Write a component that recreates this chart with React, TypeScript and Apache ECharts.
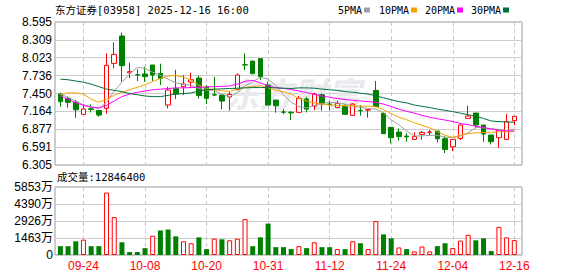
import React, { useEffect, useRef } from "react";
import * as echarts from "echarts";

const dates = [
  "09-19","09-22","09-23","09-24","09-25","09-26","09-29","09-30","10-02","10-03",
  "10-06","10-08","10-09","10-10","10-13","10-14","10-15","10-16","10-17","10-20",
  "10-21","10-22","10-23","10-24","10-27","10-28","10-30","10-31","11-03","11-04",
  "11-05","11-06","11-07","11-10","11-11","11-12","11-13","11-14","11-17","11-18",
  "11-19","11-20","11-21","11-24","11-25","11-26","11-27","11-28","12-01","12-02",
  "12-03","12-04","12-05","12-08","12-09","12-10","12-11","12-12","12-15","12-16",
];

const opens = [
  7.442,7.372,7.308,7.116,7.205,7.180,7.212,7.933,8.371,7.780,
  7.750,7.762,7.906,7.772,7.266,7.527,7.559,7.633,7.697,7.553,
  7.430,7.425,7.394,7.517,7.910,7.970,8.008,7.585,7.345,7.155,
  7.148,7.148,7.362,7.249,7.431,7.281,7.228,7.239,7.100,7.178,
  7.185,7.500,7.132,6.908,6.833,6.768,6.715,6.796,6.830,6.849,
  6.726,6.598,6.731,7.052,7.137,6.945,6.785,6.742,6.715,7.015,
];
const closes = [
  7.319,7.308,7.190,7.201,7.195,7.105,7.901,8.077,7.896,7.800,
  7.745,7.720,7.746,7.693,7.506,7.442,7.602,7.671,7.419,7.372,
  7.425,7.329,7.436,7.746,7.906,7.767,7.719,7.265,7.254,7.150,
  7.140,7.372,7.200,7.441,7.287,7.276,7.292,7.116,7.281,7.174,
  7.190,7.239,6.806,6.742,6.760,6.755,6.760,6.827,6.833,6.726,
  6.555,6.715,6.945,7.089,6.945,6.801,6.678,6.865,6.998,7.084,
];
const lows = [
  7.239,7.222,7.063,7.116,7.147,7.079,7.127,7.853,7.639,7.693,
  7.650,7.639,7.650,7.586,7.212,7.362,7.425,7.543,7.366,7.281,
  7.410,7.200,7.175,7.500,7.826,7.767,7.666,7.265,7.142,7.116,
  7.025,7.148,7.148,7.185,7.175,7.175,7.212,7.116,7.100,7.095,
  7.062,7.239,6.806,6.651,6.694,6.678,6.715,6.710,6.774,6.667,
  6.496,6.528,6.705,7.052,6.892,6.678,6.635,6.582,6.715,6.945,
];
const highs = [
  7.463,7.398,7.346,7.282,7.277,7.180,8.093,8.269,8.424,7.944,
  7.840,7.874,7.906,7.927,7.559,7.830,7.745,7.783,7.735,7.586,
  7.714,7.425,7.479,7.772,8.093,7.970,8.008,7.639,7.345,7.200,
  7.169,7.410,7.399,7.463,7.452,7.329,7.335,7.276,7.292,7.260,
  7.190,7.650,7.143,6.908,6.892,6.812,6.828,6.849,6.865,6.849,
  6.769,6.715,6.956,7.255,7.137,6.945,6.785,6.865,7.121,7.084,
];
// volume in 万 shares
const volumes = [
  760,760,1181,1322,760,760,5373,3263,1097,253,
  253,591,1660,2110,2194,1603,1181,1013,1519,506,
  1406,1350,1266,1406,3094,760,1519,2700,675,675,
  520,760,591,1097,675,675,506,506,1181,1013,
  506,2926,1772,1435,647,506,309,731,309,760,
  1013,591,1238,1744,1266,1435,338,2419,1519,1284.64,
];
const prevClose = 7.35;

const ma5 = [
  7.44,7.39,7.33,7.27,7.24,7.21,7.31,7.49,7.63,7.76,
  7.87,7.85,7.79,7.74,7.68,7.62,7.60,7.58,7.53,7.50,
  7.50,7.44,7.40,7.46,7.57,7.64,7.71,7.68,7.58,7.43,
  7.31,7.24,7.22,7.26,7.29,7.31,7.30,7.28,7.25,7.23,
  7.21,7.20,7.14,7.03,6.95,6.85,6.77,6.77,6.78,6.78,
  6.75,6.74,6.77,6.82,6.91,6.90,6.89,6.875,6.86,6.88,
];
const ma10 = [
  7.43,7.46,7.46,7.44,7.36,7.31,7.36,7.42,7.47,7.51,
  7.55,7.59,7.64,7.69,7.73,7.74,7.71,7.665,7.58,7.53,
  7.51,7.495,7.485,7.52,7.55,7.56,7.575,7.54,7.50,7.48,
  7.44,7.37,7.33,7.30,7.28,7.265,7.26,7.255,7.25,7.25,
  7.245,7.24,7.19,7.13,7.07,7.03,6.98,6.94,6.90,6.84,
  6.78,6.75,6.78,6.81,6.82,6.825,6.83,6.835,6.84,6.845,
];
const ma20 = [
  7.41,7.36,7.30,7.26,7.23,7.22,7.26,7.33,7.40,7.44,
  7.47,7.49,7.51,7.52,7.53,7.54,7.54,7.545,7.55,7.555,
  7.56,7.565,7.57,7.60,7.645,7.66,7.62,7.57,7.545,7.53,
  7.515,7.49,7.465,7.44,7.41,7.39,7.37,7.355,7.34,7.33,
  7.32,7.31,7.28,7.24,7.20,7.165,7.135,7.10,7.07,7.045,
  7.025,7.00,6.97,6.95,6.925,6.905,6.88,6.86,6.85,6.85,
];
const ma30 = [
  7.68,7.67,7.65,7.63,7.60,7.56,7.52,7.50,7.48,7.45,
  7.43,7.41,7.40,7.40,7.42,7.44,7.45,7.46,7.49,7.51,
  7.52,7.525,7.53,7.535,7.54,7.545,7.545,7.545,7.54,7.535,
  7.53,7.54,7.54,7.535,7.52,7.51,7.50,7.48,7.47,7.455,
  7.44,7.415,7.38,7.35,7.32,7.30,7.265,7.245,7.225,7.20,
  7.18,7.16,7.135,7.11,7.085,7.05,7.01,7.00,6.995,6.99,
];

const tickIndices = [3, 11, 19, 27, 35, 43, 51, 59];
const priceLabels = ["6.305","6.591","6.877","7.164","7.450","7.736","8.023","8.309","8.595"];
const volumeLabels = ["0","1463万","2926万","4390万","5853万"];
const volumeMax = 5853;

const maNames = ["5PMA", "10PMA", "20PMA", "30PMA"];
const maColors = ["#a0a0a0", "#f5a200", "#ff00ff", "#00703c"];

const FONT = "'Liberation Sans', 'Noto Sans CJK SC', sans-serif";
const MONO = "'DejaVu Sans Mono', 'Noto Sans CJK SC', monospace";
const UP = "#ff0000";
const DOWN = "#008000";

export default function App() {
  const ref = useRef<HTMLDivElement>(null);

  useEffect(() => {
    if (!ref.current) return;
    const chart = echarts.init(ref.current, null, { renderer: "svg" });

    const priceMin = Number(priceLabels[0]);
    const priceMax = Number(priceLabels[priceLabels.length - 1]);
    const priceStep = (priceMax - priceMin) / (priceLabels.length - 1);
    const priceValues = priceLabels.map((_, k) => priceMin + priceStep * k);
    const volStep = volumeMax / (volumeLabels.length - 1);
    const volValues = volumeLabels.map((_, k) => volStep * k);

    const maSeries = [ma5, ma10, ma20, ma30].map((arr, k) => ({
      type: "line",
      name: maNames[k],
      xAxisIndex: 0,
      yAxisIndex: 0,
      data: arr.map((v, i) => [i, v]),
      symbol: "none",
      silent: true,
      z: 3,
      lineStyle: { width: 1, color: maColors[k] },
      itemStyle: { color: maColors[k] },
    }));

    const legendX = [338, 379, 425, 471];
    const legendGraphics: any[] = [];
    maNames.forEach((n, k) => {
      const w = n.length * 6;
      legendGraphics.push({
        type: "text",
        x: legendX[k],
        y: 10,
        style: {
          text: n,
          fontSize: 10,
          fontFamily: MONO,
          fill: "#000",
          align: "left",
          verticalAlign: "middle",
          textAlign: "left",
          textVerticalAlign: "middle",
        },
      });
      legendGraphics.push({
        type: "rect",
        shape: { x: legendX[k] + w + 2, y: 7.5, width: 6, height: 5 },
        style: { fill: maColors[k] },
      });
    });

    const option: any = {
      animation: false,
      backgroundColor: "#ffffff",
      grid: [
        { left: 55, top: 22, width: 467, height: 143, show: true, borderColor: "#999", borderWidth: 1 },
        { left: 55, top: 187, width: 467, height: 68, show: true, borderColor: "#999", borderWidth: 1 },
      ],
      xAxis: [
        {
          type: "value", gridIndex: 0, min: -0.7, max: 60,
          axisLine: { show: false },
          axisTick: { show: false, customValues: tickIndices },
          axisLabel: { show: false, customValues: tickIndices },
          splitLine: { show: true, lineStyle: { color: "#c8c8c8", type: [4, 3], width: 1 } },
        },
        {
          type: "value", gridIndex: 1, min: -0.7, max: 60,
          axisLine: { show: false },
          axisTick: { show: false, customValues: tickIndices },
          axisLabel: {
            show: true,
            customValues: tickIndices,
            formatter: (v: number) => dates[Math.round(v)] ?? "",
            color: UP,
            fontSize: 12,
            fontFamily: FONT,
            margin: 5,
          },
          splitLine: { show: true, lineStyle: { color: "#c8c8c8", type: [4, 3], width: 1 } },
        },
      ],
      yAxis: [
        {
          type: "value", gridIndex: 0, min: priceMin, max: priceMax,
          axisLine: { show: false },
          axisTick: { show: false, customValues: priceValues },
          axisLabel: {
            customValues: priceValues,
            formatter: (v: number) => priceLabels[Math.round((v - priceMin) / priceStep)] ?? "",
            color: "#000",
            fontSize: 12,
            fontFamily: FONT,
            margin: 3,
          },
          splitLine: { show: true, lineStyle: { color: "#cccccc", width: 1 } },
        },
        {
          type: "value", gridIndex: 1, min: 0, max: volumeMax,
          axisLine: { show: false },
          axisTick: { show: false, customValues: volValues },
          axisLabel: {
            customValues: volValues,
            formatter: (v: number) => volumeLabels[Math.round(v / volStep)] ?? "",
            color: "#000",
            fontSize: 12,
            fontFamily: FONT,
            margin: 2,
          },
          splitLine: { show: true, lineStyle: { color: "#cccccc", width: 1 } },
        },
      ],
      series: [
        {
          type: "candlestick",
          xAxisIndex: 0,
          yAxisIndex: 0,
          barWidth: 5,
          z: 2,
          data: dates.map((_, i) => [i, opens[i], closes[i], lows[i], highs[i]]),
          encode: { x: 0, y: [1, 2, 3, 4] },
          itemStyle: {
            color: "#ffffff",
            color0: DOWN,
            borderColor: UP,
            borderColor0: DOWN,
            borderWidth: 1,
          },
        },
        ...maSeries,
        {
          type: "bar",
          xAxisIndex: 1,
          yAxisIndex: 1,
          barWidth: 5,
          data: volumes.map((v, i) => {
            const prev = i === 0 ? prevClose : closes[i - 1];
            const up = closes[i] >= prev;
            return {
              value: [i, v],
              itemStyle: up
                ? { color: "#ffffff", borderColor: UP, borderWidth: 1 }
                : { color: DOWN, borderWidth: 0 },
            };
          }),
        },
      ],
      graphic: [
        {
          type: "text",
          x: 225,
          y: 92,
          z: 1,
          silent: true,
          style: {
            text: "东方财富",
            fontSize: 34,
            fontWeight: "bold",
            fontStyle: "italic",
            fontFamily: "'Noto Sans CJK SC', sans-serif",
            fill: "#e9e9ee",
            align: "left",
            verticalAlign: "middle",
            textAlign: "left",
            textVerticalAlign: "middle",
          },
        },
        {
          type: "text",
          x: 55,
          y: 10,
          style: {
            text: "东方证券[03958] 2025-12-16 16:00",
            fontSize: 10.5,
            fontFamily: MONO,
            fill: "#000",
            align: "left",
            verticalAlign: "middle",
            textAlign: "left",
            textVerticalAlign: "middle",
          },
        },
        {
          type: "text",
          x: 57,
          y: 177,
          style: {
            text: "成交量:12846400",
            fontSize: 10.5,
            fontFamily: MONO,
            fill: "#000",
            align: "left",
            verticalAlign: "middle",
            textAlign: "left",
            textVerticalAlign: "middle",
          },
        },
        ...legendGraphics,
      ],
    };

    chart.setOption(option);
    return () => chart.dispose();
  }, []);

  return (
    <div
      ref={ref}
      style={{ position: "absolute", left: 0, top: 0, width: 578, height: 276, background: "#fff" }}
    />
  );
}
